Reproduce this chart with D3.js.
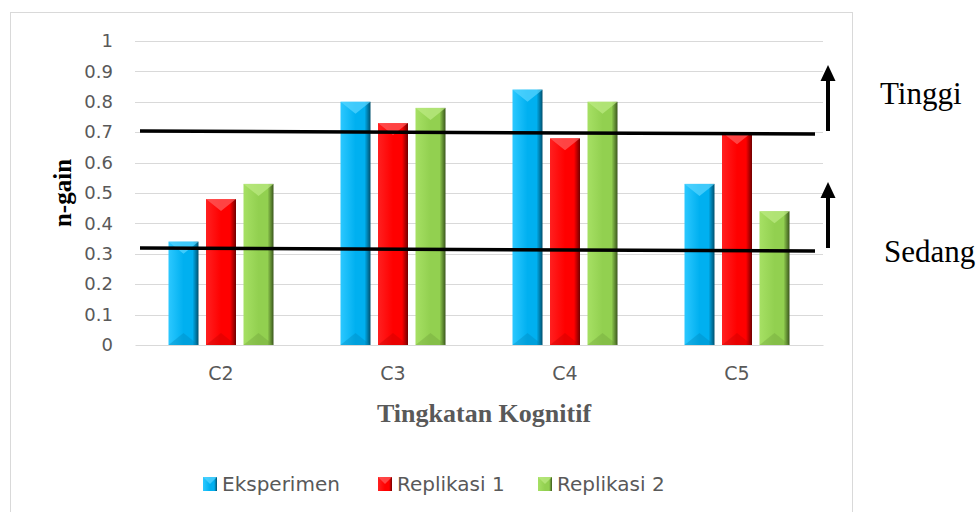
<!DOCTYPE html>
<html>
<head>
<meta charset="utf-8">
<script src="https://cdn.jsdelivr.net/npm/d3@7"></script>
<style>
  body { margin: 0; background: #fff; }
  svg { display: block; }
</style>
</head>
<body>
<div id="canvas"></div>
<script>
// data
var categories = ['C2', 'C3', 'C4', 'C5'];
var seriesNames = ['Eksperimen', 'Replikasi 1', 'Replikasi 2'];
var eksperimen = [0.34, 0.80, 0.84, 0.53];
var replikasi1 = [0.48, 0.73, 0.68, 0.70];
var replikasi2 = [0.53, 0.78, 0.80, 0.44];
var yTicks = [0, 0.1, 0.2, 0.3, 0.4, 0.5, 0.6, 0.7, 0.8, 0.9, 1];
// threshold lines drawn over the chart (start value, end value)
var thresholdNames = ['Tinggi', 'Sedang'];
var thresholdStart = [0.704, 0.319];
var thresholdEnd = [0.694, 0.309];

var W = 977, H = 512;
var m = {t: 41, r: 154, b: 167, l: 135};
var w = W - m.l - m.r, h = H - m.t - m.b;

var sans = '"DejaVu Sans", "Open Sans", sans-serif';
var serif = '"Liberation Serif", "Times New Roman", serif';

var svg = d3.select('#canvas').append('svg')
    .attr('width', W).attr('height', H);

var colors = [
  {base: '#00B0F0', light: '#2CC8FF', dark: '#00506E', top: '#5AD6FF', bot: '#0085B8'},
  {base: '#FF0000', light: '#FF2020', dark: '#700000', top: '#FF6060', bot: '#C00000'},
  {base: '#92D050', light: '#A6E064', dark: '#3A561C', top: '#BDEB85', bot: '#6E9E3A'}
];

var defs = svg.append('defs');
colors.forEach(function(c, i){
  var g = defs.append('linearGradient').attr('id', 'grad' + i)
      .attr('x1', 0).attr('x2', 1).attr('y1', 0).attr('y2', 0);
  g.append('stop').attr('offset', '0%').attr('stop-color', c.light);
  g.append('stop').attr('offset', '50%').attr('stop-color', c.base);
  g.append('stop').attr('offset', '80%').attr('stop-color', c.base);
  g.append('stop').attr('offset', '100%').attr('stop-color', c.dark);
});

// chart area border
svg.append('rect')
    .attr('x', 10.5).attr('y', 12.5)
    .attr('width', 842).attr('height', 520)
    .attr('fill', 'none').attr('stroke', '#d9d9d9');

var plot = svg.append('g').attr('transform', 'translate(' + m.l + ',' + m.t + ')');

var x = d3.scaleBand().domain(categories).range([0, w]).paddingInner(0).paddingOuter(0);
var y = d3.scaleLinear().domain([0, 1]).range([h, 0]);
var x1 = d3.scaleBand().domain(seriesNames).range([33.5, x.bandwidth() - 33.5]).paddingInner(0.2);

// gridlines
plot.selectAll('.grid').data(yTicks.slice(1)).enter().append('line')
    .attr('x1', 0).attr('x2', w)
    .attr('y1', function(d){ return Math.round(y(d)) + 0.5; })
    .attr('y2', function(d){ return Math.round(y(d)) + 0.5; })
    .attr('stroke', '#d9d9d9').attr('stroke-width', 1);

// y axis labels
var yAxis = d3.axisLeft(y).tickValues(yTicks).tickSize(0).tickPadding(22)
    .tickFormat(function(d){ return d === 0 ? '0' : d === 1 ? '1' : d3.format('.1f')(d); });
var yg = plot.append('g').call(yAxis);
yg.select('.domain').remove();
yg.selectAll('text').attr('fill', '#595959')
    .style('font-family', sans).style('font-size', '18px');

// x axis
var xAxis = d3.axisBottom(x).tickSize(0).tickPadding(22);
var xg = plot.append('g').attr('transform', 'translate(0,' + h + ')').call(xAxis);
xg.select('.domain').attr('stroke', '#d9d9d9');
xg.selectAll('text').attr('fill', '#595959')
    .style('font-family', sans).style('font-size', '19px');

// bars
var seriesData = [eksperimen, replikasi1, replikasi2];
seriesNames.forEach(function(name, si){
  var vals = seriesData[si];
  var g = plot.append('g').attr('class', 'series');
  var bars = g.selectAll('.bar').data(categories).enter().append('g')
      .attr('transform', function(d){ return 'translate(' + (x(d) + x1(name)) + ',0)'; });
  var bw = x1.bandwidth();
  bars.append('rect')
      .attr('x', 0).attr('width', bw)
      .attr('y', function(d, i){ return y(vals[i]); })
      .attr('height', function(d, i){ return h - y(vals[i]); })
      .attr('fill', 'url(#grad' + si + ')');
  // top bevel
  bars.append('path')
      .attr('d', function(d, i){
        var t = y(vals[i]);
        return 'M0,' + t + 'L' + bw + ',' + t + 'L' + (bw / 2) + ',' + (t + 12) + 'Z';
      })
      .attr('fill', colors[si].top).attr('opacity', 0.7);
  // bottom bevel
  bars.append('path')
      .attr('d', function(){
        return 'M0,' + h + 'L' + bw + ',' + h + 'L' + (bw / 2) + ',' + (h - 12) + 'Z';
      })
      .attr('fill', colors[si].bot).attr('opacity', 0.35);
});

// threshold lines
thresholdNames.forEach(function(name, i){
  plot.append('line')
      .attr('x1', 5).attr('x2', w - 8)
      .attr('y1', y(thresholdStart[i])).attr('y2', y(thresholdEnd[i]))
      .attr('stroke', '#000').attr('stroke-width', 3.5);
});

// arrows
thresholdNames.forEach(function(name, i){
  var ys = y(thresholdStart[i]);
  var a = plot.append('g').attr('transform', 'translate(' + (w + 5) + ',0)');
  a.append('line')
      .attr('x1', 0).attr('x2', 0)
      .attr('y1', ys).attr('y2', ys - 52)
      .attr('stroke', '#000').attr('stroke-width', 4);
  a.append('path')
      .attr('d', 'M-7.5,' + (ys - 50) + 'L0,' + (ys - 66) + 'L7.5,' + (ys - 50) + 'Z')
      .attr('fill', '#000');
});

// side labels
svg.append('text').attr('x', 880).attr('y', 104).text('Tinggi')
    .style('font-family', serif).style('font-size', '31px');
svg.append('text').attr('x', 884).attr('y', 262).text('Sedang')
    .style('font-family', serif).style('font-size', '31px');

// axis titles
svg.append('text')
    .attr('transform', 'translate(71,' + 193 + ') rotate(-90)')
    .attr('text-anchor', 'middle').text('n-gain')
    .style('font-family', serif)
    .style('font-size', '25px').style('font-weight', 'bold').attr('fill', '#000');
svg.append('text')
    .attr('x', 484).attr('y', 422)
    .attr('text-anchor', 'middle').text('Tingkatan Kognitif')
    .style('font-family', serif)
    .style('font-size', '26px').style('font-weight', 'bold').attr('fill', '#595959');

// legend
var legendX = [203, 378, 538];
var legend = svg.selectAll('.legend').data(seriesNames).enter().append('g')
    .attr('transform', function(d, i){ return 'translate(' + legendX[i] + ',477)'; });
legend.append('rect').attr('width', 14).attr('height', 14)
    .attr('fill', function(d, i){ return 'url(#grad' + i + ')'; });
legend.append('path').attr('d', 'M0,0L14,0L7,7Z')
    .attr('fill', function(d, i){ return colors[i].top; }).attr('opacity', 0.7);
legend.append('text').attr('x', 19).attr('y', 13.5).text(function(d){ return d; })
    .attr('fill', '#595959')
    .style('font-family', sans).style('font-size', '20px');
</script>
</body>
</html>
